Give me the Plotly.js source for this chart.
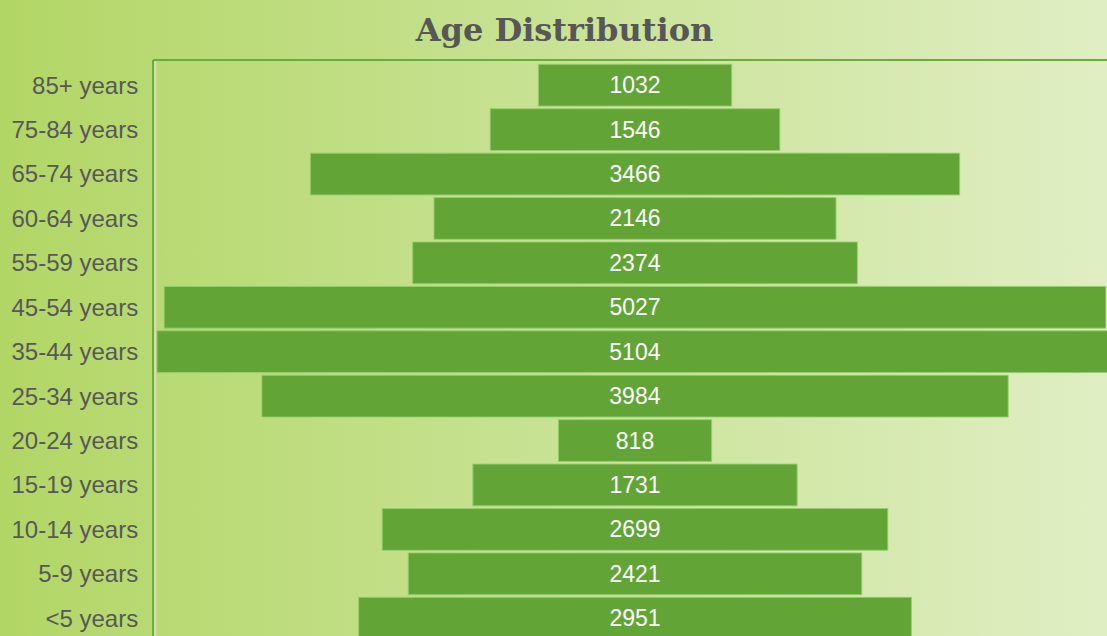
<!DOCTYPE html>
<html>
<head>
<meta charset="utf-8">
<script src="https://cdn.plot.ly/plotly-3.0.1.min.js"></script>
<style>
html, body { margin:0; padding:0; overflow:hidden; width:1107px; height:636px; }
body { background: linear-gradient(to right, #b2d665 0%, #c6e190 45%, #e0eec3 100%); }
#chart { width:1129px; height:660px; }
</style>
</head>
<body>
<div id="chart"></div>
<script>
const ageGroups = ["85+ years","75-84 years","65-74 years","60-64 years","55-59 years","45-54 years","35-44 years","25-34 years","20-24 years","15-19 years","10-14 years","5-9 years","<5 years"];
const counts = [1032,1546,3466,2146,2374,5027,5104,3984,818,1731,2699,2421,2951];

const trace = {
  type: 'funnel',
  y: ageGroups,
  x: counts,
  textinfo: 'value',
  textposition: 'inside',
  insidetextanchor: 'middle',
  insidetextfont: {family: 'Liberation Sans, Arial, sans-serif', size: 23, color: '#ffffff'},
  marker: {color: '#62a536', line: {color: 'rgba(150,205,110,0.9)', width: 1}},
  connector: {visible: false},
  hoverinfo: 'none'
};

const layout = {
  width: 1129, height: 660,
  margin: {l: 153, r: 12, t: 60, b: 10, pad: 0},
  paper_bgcolor: 'rgba(0,0,0,0)',
  plot_bgcolor: 'rgba(0,0,0,0)',
  showlegend: false,
  funnelgap: 0.06,
  title: {
    text: '<b>Age Distribution</b>',
    x: 0.5, xref: 'container', xanchor: 'center', y: 0.9545, yref: 'container', yanchor: 'middle',
    font: {family: 'DejaVu Serif, serif', size: 32, color: '#575757'}
  },
  xaxis: {range: [-2573, 2573], visible: false, fixedrange: true},
  yaxis: {
    range: [12.715, -0.567], autorange: false, automargin: false,
    tickfont: {family: 'Liberation Sans, Arial, sans-serif', size: 24, color: '#585858'},
    ticks: 'outside', ticklen: 9, tickcolor: 'rgba(0,0,0,0)',
    showgrid: false, zeroline: false, showline: false
  },
  shapes: [
    {type: 'line', xref: 'paper', yref: 'paper', x0: 0, x1: 1, y0: 1, y1: 1, line: {color: '#6aad3c', width: 2}},
    {type: 'line', xref: 'paper', yref: 'paper', x0: 0, x1: 0, y0: 0, y1: 1, line: {color: '#6aad3c', width: 2}},
    {type: 'line', xref: 'x', yref: 'paper', x0: -2561, x1: -2561, y0: 0, y1: 0.998, line: {color: '#d4dcc4', width: 2}}
  ]
};

Plotly.newPlot('chart', [trace], layout, {displayModeBar: false, staticPlot: true});
</script>
</body>
</html>
